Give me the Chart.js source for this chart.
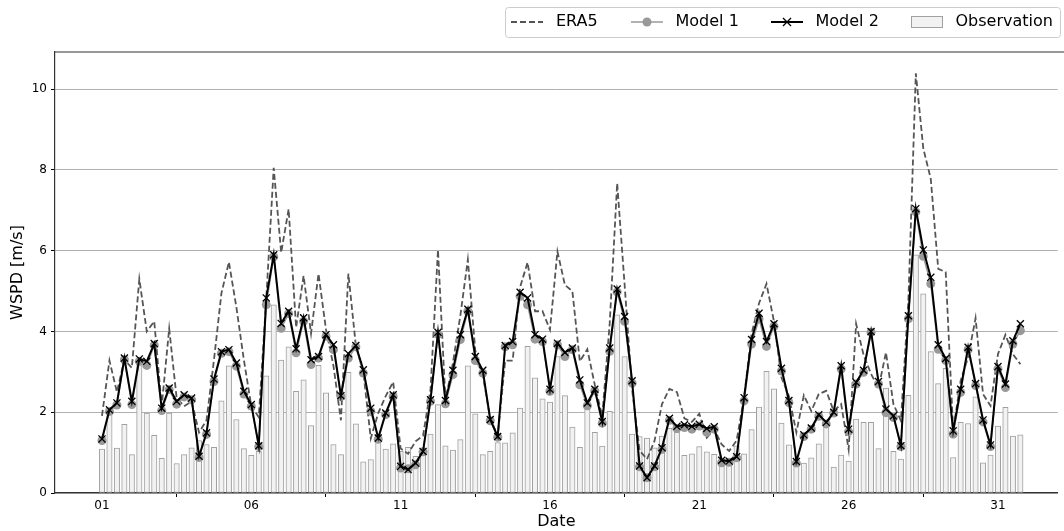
<!DOCTYPE html>
<html>
<head>
<meta charset="utf-8">
<script src="https://cdn.jsdelivr.net/npm/chart.js@4.4.0/dist/chart.umd.min.js"></script>
<style>
  html, body { margin: 0; padding: 0; background: #fff; }
</style>
</head>
<body>
<canvas id="chart" width="1064" height="531"></canvas>
<script>
// DATA (6-hourly, day 01 00:00 .. day 31 18:00)
const dayLabels = ['01', '06', '11', '16', '21', '26', '31'];
const dayTicks = [0, 5, 10, 15, 20, 25, 30];
const yTicks = [0, 2, 4, 6, 8, 10];

const era5 = [
  1.91, 3.28, 2.5, 3.3, 3.1, 5.3, 4.0, 4.25, 2.15, 4.07, 2.35, 2.15, 2.27, 1.5, 1.8, 3.3,
  4.95, 5.72, 4.6, 3.3, 2.15, 1.88, 4.8, 8.05, 5.95, 7.03, 4.1, 5.38, 3.95, 5.43, 4.05, 3.15,
  1.8, 5.43, 3.65, 3.0, 1.35, 1.98, 2.4, 2.75, 1.1, 0.97, 1.28, 1.42, 2.56, 6.02, 2.3, 3.22,
  4.4, 5.78, 3.52, 2.92, 1.85, 1.4, 3.28, 3.28, 5.1, 5.71, 4.5, 4.5, 4.04, 5.98, 5.15, 5.0,
  3.26, 3.56, 2.68, 1.9, 4.2, 7.67, 5.15, 2.56, 1.05, 0.84, 1.29, 2.2, 2.58, 2.5, 1.85, 1.76,
  1.96, 1.37, 1.58, 1.2, 1.04, 1.3, 2.37, 3.94, 4.7, 5.18, 4.25, 2.86, 2.4, 1.5, 2.42, 2.03,
  2.45, 2.53, 2.03, 2.2, 1.08, 4.19, 3.42, 2.95, 2.6, 3.48, 2.2, 1.79, 4.76, 10.39, 8.53, 7.78,
  5.55, 5.47, 1.54, 2.78, 3.36, 4.33, 2.45, 2.16, 3.44, 3.92, 3.44, 3.19
];

const model1 = [
  1.3, 2.02, 2.18, 3.3, 2.19, 3.26, 3.16, 3.66, 2.04, 2.56, 2.2, 2.38, 2.31, 0.88, 1.45, 2.76,
  3.46, 3.5, 3.14, 2.45, 2.15, 1.15, 4.66, 5.85, 4.08, 4.44, 3.47, 4.25, 3.18, 3.34, 3.88, 3.55,
  2.39, 3.34, 3.62, 2.97, 2.02, 1.33, 1.94, 2.39, 0.62, 0.6, 0.7, 1.02, 2.27, 3.93, 2.21, 2.93,
  3.8, 4.5, 3.28, 2.97, 1.79, 1.38, 3.62, 3.67, 4.87, 4.66, 3.81, 3.75, 2.52, 3.67, 3.38, 3.55,
  2.68, 2.16, 2.53, 1.73, 3.51, 4.98, 4.25, 2.72, 0.65, 0.38, 0.65, 1.08, 1.8, 1.6, 1.62, 1.58,
  1.66, 1.5, 1.58, 0.75, 0.76, 0.87, 2.28, 3.69, 4.31, 3.63, 4.13, 3.02, 2.24, 0.74, 1.4, 1.58,
  1.9, 1.71, 1.98, 3.07, 1.52, 2.7, 2.99, 3.98, 2.7, 1.99, 1.87, 1.15, 4.31, 6.96, 5.86, 5.18,
  3.56, 3.28, 1.46, 2.49, 3.55, 2.66, 1.76, 1.15, 3.07, 2.61, 3.69, 4.02
];

const model2 = [
  1.34, 2.06, 2.23, 3.34, 2.27, 3.32, 3.26, 3.7, 2.1, 2.6, 2.27, 2.43, 2.35, 0.91, 1.49, 2.82,
  3.5, 3.55, 3.22, 2.52, 2.19, 1.17, 4.83, 5.9, 4.2, 4.5, 3.57, 4.34, 3.3, 3.38, 3.92, 3.67,
  2.41, 3.45, 3.65, 3.05, 2.1, 1.36, 1.98, 2.43, 0.66, 0.58, 0.74, 1.03, 2.31, 3.98, 2.29, 3.04,
  3.92, 4.55, 3.38, 3.04, 1.82, 1.4, 3.65, 3.75, 4.97, 4.83, 3.92, 3.81, 2.57, 3.71, 3.48, 3.59,
  2.8, 2.23, 2.57, 1.77, 3.59, 5.05, 4.37, 2.78, 0.67, 0.38, 0.67, 1.12, 1.85, 1.65, 1.69, 1.65,
  1.7, 1.6, 1.64, 0.81, 0.79, 0.9, 2.36, 3.8, 4.45, 3.75, 4.19, 3.09, 2.29, 0.78, 1.44, 1.61,
  1.94, 1.75, 2.0, 3.15, 1.58, 2.74, 3.04, 4.0, 2.76, 2.08, 1.91, 1.17, 4.39, 7.04, 6.02, 5.34,
  3.67, 3.33, 1.54, 2.57, 3.61, 2.71, 1.81, 1.19, 3.13, 2.7, 3.77, 4.19
];

const observation = [
  1.09, 2.03, 1.11, 1.7, 0.95, 3.25, 1.98, 1.43, 0.86, 1.98, 0.73, 0.95, 1.12, 1.3, 1.2, 1.13,
  2.28, 3.15, 1.82, 1.1, 0.93, 1.03, 2.9, 4.66, 3.29, 3.62, 2.52, 2.8, 1.67, 3.16, 2.48, 1.2,
  0.95, 2.99, 1.71, 0.77, 0.83, 1.44, 1.09, 1.22, 1.03, 1.13, 0.91, 1.03, 1.46, 2.19, 1.17, 1.06,
  1.32, 3.15, 1.96, 0.95, 1.03, 1.25, 1.24, 1.49, 2.1, 3.63, 2.85, 2.33, 2.25, 3.38, 2.41, 1.63,
  1.13, 2.19, 1.5, 1.16, 2.02, 4.41, 3.38, 1.46, 1.4, 1.36, 1.12, 1.41, 1.6, 1.5, 0.93, 0.97,
  1.15, 1.02, 0.96, 0.8, 0.84, 1.17, 0.97, 1.57, 2.13, 3.01, 2.58, 1.73, 1.19, 0.7, 0.74, 0.87,
  1.22, 1.65, 0.64, 0.94, 0.79, 1.83, 1.75, 1.75, 1.1, 2.6, 1.03, 0.84, 2.42, 5.9, 4.93, 3.5,
  2.71, 3.09, 0.88, 1.75, 1.72, 2.38, 0.75, 0.94, 1.66, 2.12, 1.41, 1.44
];

// x position in days since 01 00:00
const toPoints = (arr) => arr.map((v, i) => ({ x: i / 4, y: v }));

Chart.defaults.font.family = "'DejaVu Sans', sans-serif";
Chart.defaults.color = '#000';

// top frame line + matplotlib-style legend box
const extrasPlugin = {
  id: 'extras',
  afterDraw(chart) {
    const ctx = chart.ctx;
    const a = chart.chartArea;
    ctx.save();
    ctx.strokeStyle = '#333';
    ctx.lineWidth = 1.2;
    ctx.beginPath();
    ctx.moveTo(a.left, a.top);
    ctx.lineTo(1064, a.top);
    ctx.stroke();

    // legend
    const bx = 505, by = 7, bw = 555, bh = 30, cy = by + bh / 2;
    ctx.fillStyle = 'rgba(255,255,255,0.85)';
    ctx.strokeStyle = '#cccccc';
    ctx.lineWidth = 1;
    ctx.beginPath();
    ctx.roundRect(bx + 0.5, by + 0.5, bw, bh, 3);
    ctx.fill();
    ctx.stroke();

    ctx.font = "16px 'DejaVu Sans'";
    ctx.fillStyle = '#000';
    ctx.textBaseline = 'middle';

    // ERA5
    ctx.strokeStyle = '#555555';
    ctx.lineWidth = 1.8;
    ctx.setLineDash([6, 3]);
    ctx.beginPath();
    ctx.moveTo(511, cy); ctx.lineTo(543, cy);
    ctx.stroke();
    ctx.setLineDash([]);
    ctx.fillText('ERA5', 556, cy);

    // Model 1
    ctx.strokeStyle = '#999999';
    ctx.lineWidth = 1.5;
    ctx.beginPath();
    ctx.moveTo(631, cy); ctx.lineTo(663, cy);
    ctx.stroke();
    ctx.fillStyle = '#999999';
    ctx.beginPath();
    ctx.arc(647, cy, 4.5, 0, Math.PI * 2);
    ctx.fill();
    ctx.fillStyle = '#000';
    ctx.fillText('Model 1', 675.5, cy);

    // Model 2
    ctx.strokeStyle = '#000';
    ctx.lineWidth = 2;
    ctx.beginPath();
    ctx.moveTo(771, cy); ctx.lineTo(803, cy);
    ctx.stroke();
    ctx.lineWidth = 1.3;
    ctx.beginPath();
    ctx.moveTo(783, cy - 4); ctx.lineTo(791, cy + 4);
    ctx.moveTo(783, cy + 4); ctx.lineTo(791, cy - 4);
    ctx.stroke();
    ctx.fillText('Model 2', 815.5, cy);

    // Observation
    ctx.fillStyle = '#f2f2f2';
    ctx.strokeStyle = '#a0a0a0';
    ctx.lineWidth = 1;
    ctx.fillRect(911.5, cy - 5.5, 31, 11);
    ctx.strokeRect(911.5, cy - 5.5, 31, 11);
    ctx.fillStyle = '#000';
    ctx.fillText('Observation', 955.5, cy);
    ctx.restore();
  }
};

const ctx = document.getElementById('chart');

new Chart(ctx, {
  type: 'bar',
  data: {
    datasets: [
      {
        type: 'line',
        label: 'Model 2',
        data: toPoints(model2),
        borderColor: '#000',
        borderWidth: 2,
        pointStyle: 'crossRot',
        pointRadius: 5,
        pointBorderColor: '#000',
        pointBorderWidth: 1.3,
        tension: 0,
        order: 1
      },
      {
        type: 'line',
        label: 'Model 1',
        data: toPoints(model1),
        borderColor: '#999999',
        borderWidth: 1.5,
        pointStyle: 'circle',
        pointRadius: 4.5,
        pointBackgroundColor: '#999999',
        pointBorderColor: '#999999',
        pointBorderWidth: 0,
        tension: 0,
        order: 2
      },
      {
        type: 'line',
        label: 'ERA5',
        data: toPoints(era5),
        borderColor: '#555555',
        borderWidth: 1.8,
        borderDash: [6, 3],
        pointRadius: 0,
        tension: 0,
        order: 3
      },
      {
        type: 'bar',
        label: 'Observation',
        data: toPoints(observation),
        backgroundColor: '#f2f2f2',
        borderColor: '#a0a0a0',
        borderWidth: 1,
        borderSkipped: false,
        barThickness: 5.4,
        order: 4
      }
    ]
  },
  options: {
    responsive: false,
    animation: false,
    layout: { padding: { top: 52, right: 0, left: 0, bottom: 0 } },
    plugins: {
      legend: { display: false },
      tooltip: { enabled: false }
    },
    scales: {
      x: {
        type: 'linear',
        offset: false,
        min: -1.573,
        max: 32.0,
        afterBuildTicks: (s) => { s.ticks = dayTicks.map(v => ({ value: v })); },
        afterFit: (s) => { s.height = 38; },
        ticks: {
          font: { size: 12 },
          color: '#000',
          padding: 2,
          maxRotation: 0,
          callback: (v) => dayLabels[dayTicks.indexOf(v)]
        },
        grid: { drawOnChartArea: false, drawTicks: true, tickLength: 4, tickColor: '#000' },
        border: { color: '#333', width: 1.2 },
        title: { display: true, text: 'Date', font: { size: 16 }, color: '#000', padding: { top: 0, bottom: 0 } }
      },
      y: {
        min: 0,
        max: 10.92,
        afterBuildTicks: (s) => { s.ticks = yTicks.map(v => ({ value: v })); },
        afterFit: (s) => { s.width = 55; },
        ticks: { font: { size: 12 }, color: '#000', padding: 4 },
        grid: { color: '#b0b0b0', lineWidth: 1, tickLength: 4, tickColor: '#000' },
        border: { color: '#333', width: 1.2 },
        title: { display: true, text: 'WSPD [m/s]', font: { size: 16 }, color: '#000', padding: { top: 8, bottom: 0 } }
      }
    }
  },
  plugins: [extrasPlugin]
});
</script>
</body>
</html>
